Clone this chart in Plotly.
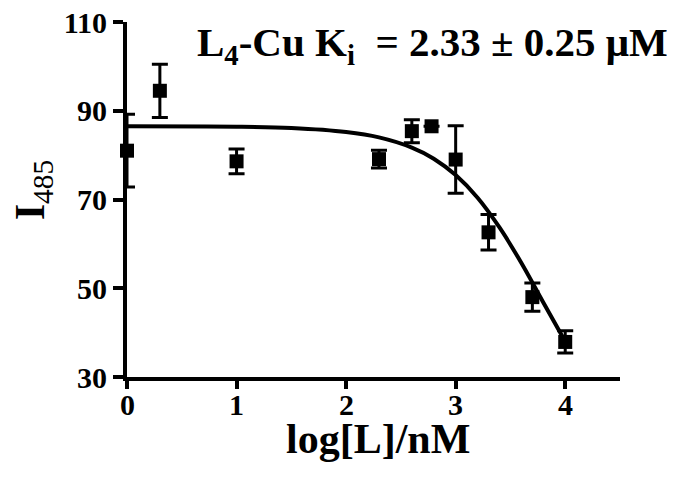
import plotly.graph_objects as go

# Data
log_conc = [0, 0.3, 1.0, 2.3, 2.6, 2.78, 3.0, 3.3, 3.7, 4.0]
intensity = [81.0, 94.5, 78.6, 79.1, 85.4, 86.5, 79.0, 62.6, 48.0, 37.9]
error = [8.2, 6.0, 2.8, 2.0, 2.6, 0, 7.6, 4.0, 3.2, 2.5]

# Fitted curve
fit_x = [0, 1.0, 1.5, 2.0, 2.3, 2.6, 2.8, 3.0, 3.2, 3.4, 3.6, 3.8, 4.0]
fit_y = [86.5, 86.4, 86.1, 85.2, 84.0, 81.7, 79.2, 75.5, 70.4, 63.7, 55.7, 46.8, 38.0]

x_ticks = [0, 1, 2, 3, 4]
y_ticks = [30, 50, 70, 90, 110]

FONT = "Liberation Serif"

fig = go.Figure()
fig.add_trace(go.Scatter(
    x=fit_x, y=fit_y, mode="lines", line=dict(color="black", width=4, shape="spline"),
    cliponaxis=False, hoverinfo="skip", showlegend=False))
fig.add_trace(go.Scatter(
    x=log_conc, y=intensity, mode="markers",
    marker=dict(symbol="square", size=14, color="black"),
    error_y=dict(type="data", array=error, visible=True, color="black", thickness=3, width=8),
    cliponaxis=False, showlegend=False))

annotations = [
    dict(text="<b>L<sub>4</sub>-Cu K<sub>i</sub>  = 2.33 ± 0.25 μM</b>",
         xref="paper", yref="paper", x=1.101, y=1.014, xanchor="right", yanchor="top",
         showarrow=False, font=dict(family=FONT, size=41, color="black")),
    dict(text="<b>log[L]/nM</b>",
         xref="paper", yref="paper", x=0.51, y=-0.174, xanchor="center", yanchor="middle",
         showarrow=False, font=dict(family=FONT, size=42, color="black")),
    dict(text="<b>I</b><sub>485</sub>",
         xref="paper", yref="paper", x=-0.19, y=0.527, xanchor="center", yanchor="middle",
         textangle=-90, showarrow=False, font=dict(family=FONT, size=42, color="black")),
]
# x tick labels placed just under the axis
for v in x_ticks:
    annotations.append(dict(
        text="<b>%d</b>" % v, xref="x", yref="paper", x=v, y=-0.025,
        xanchor="center", yanchor="top", showarrow=False,
        font=dict(family=FONT, size=30, color="black")))

fig.update_layout(
    width=675, height=477,
    margin=dict(l=119, r=63, t=14, b=108),
    paper_bgcolor="white", plot_bgcolor="white",
    font=dict(family=FONT, color="black"),
    xaxis=dict(
        range=[0, 4.5], tickvals=x_ticks, showticklabels=False,
        showgrid=False, zeroline=False, showline=True, linecolor="black", linewidth=4,
        ticks="outside", ticklen=8, tickwidth=4, tickcolor="black", automargin=False,
    ),
    yaxis=dict(
        range=[30, 110], tickvals=y_ticks, ticktext=[str(v) for v in y_ticks],
        showgrid=False, zeroline=False, showline=True, linecolor="black", linewidth=4,
        ticks="outside", ticklen=10, tickwidth=4, tickcolor="black", automargin=False,
        ticklabeloverflow="allow",
        tickfont=dict(family=FONT, size=30, color="black", weight="bold"),
    ),
    annotations=annotations,
)

fig.write_html("out.html")
